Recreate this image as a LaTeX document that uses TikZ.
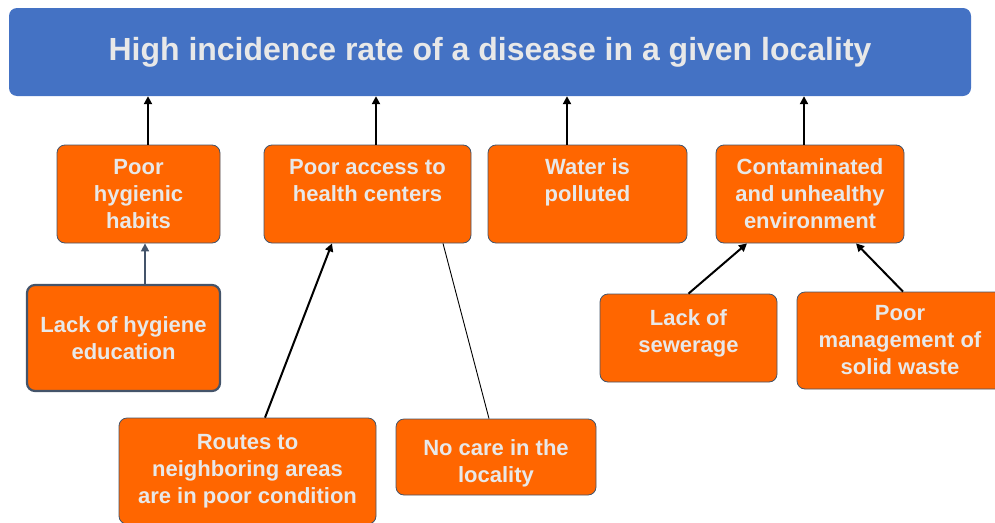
\documentclass[tikz,border=0pt]{standalone}
\usepackage{fontspec}
\setmainfont{Liberation Sans}
\usetikzlibrary{arrows.meta}
\definecolor{topblue}{HTML}{4472C4}
\definecolor{boxorange}{HTML}{FF6600}
\definecolor{edgegray}{HTML}{44546A}
\definecolor{txtgray}{HTML}{E8E8E8}
\begin{document}
\begin{tikzpicture}[x=1pt,y=1pt,
  cause/.style={draw=edgegray, line width=0.8pt, fill=boxorange, rounded corners=8pt,
    inner sep=0pt, align=center, text=txtgray, font=\fontsize{22}{27}\selectfont\bfseries},
  titlebox/.style={fill=topblue, rounded corners=8pt, inner sep=0pt, text=txtgray,
    font=\fontsize{32}{36}\selectfont\bfseries},
  arr/.style={-{Triangle[length=8pt,width=8pt]}, line width=2pt},
]
\useasboundingbox (0,0) rectangle (995,-522);
\clip (0,0) rectangle (995,-522);

\node[titlebox, minimum width=962, minimum height=88] (title) at (490,-52)
  {High incidence rate of a disease in a given locality};

\node[cause, minimum width=163, minimum height=98] (hab) at (138.5,-194)
  {Poor\\hygienic\\habits};
\node[cause, minimum width=207, minimum height=98] (acc) at (367.5,-194)
  {Poor access to\\health centers\\\mbox{}};
\node[cause, minimum width=199, minimum height=98] (wat) at (587.5,-194)
  {Water is\\polluted\\\mbox{}};
\node[cause, minimum width=188, minimum height=98] (con) at (810,-194)
  {Contaminated\\and unhealthy\\environment};

\node[cause, line width=2.2pt, minimum width=193, minimum height=106] (edu) at (123.5,-338)
  {Lack of hygiene\\education};
\node[cause, minimum width=257, minimum height=106] (rou) at (247.5,-471)
  {Routes to\\neighboring areas\\are in poor condition};
\node[cause, minimum width=200, minimum height=76] (noc) at (496,-457)
  {\rule{0pt}{28pt}No care in the\\locality};
\node[cause, minimum width=177, minimum height=88] (sew) at (688.5,-338)
  {Lack of\\sewerage\\[-14pt]\mbox{}};
\node[cause, minimum width=206, minimum height=97] (man) at (900,-340.5)
  {Poor\\management of\\solid waste};

\draw[arr] ([xshift=9.5pt]hab.north) -- ([xshift=9.5pt]hab.north |- title.south);
\draw[arr] ([xshift=8.5pt]acc.north) -- ([xshift=8.5pt]acc.north |- title.south);
\draw[arr] ([xshift=-20.5pt]wat.north) -- ([xshift=-20.5pt]wat.north |- title.south);
\draw[arr] ([xshift=-6pt]con.north) -- ([xshift=-6pt]con.north |- title.south);

\draw[arr, draw=edgegray, line width=1.6pt] ([xshift=21.5pt]edu.north) -- ([xshift=21.5pt]edu.north |- hab.south);
\draw[arr] ([xshift=17.5pt]rou.north) -- ([xshift=-35.5pt]acc.south);
\draw[line width=0.9pt] ([xshift=-7pt]noc.north) -- ([xshift=75.5pt]acc.south);
\draw[arr] ([xshift=0pt]sew.north) -- ([xshift=-63pt]con.south);
\draw[arr] ([xshift=3pt]man.north) -- ([xshift=46pt]con.south);
\end{tikzpicture}
\end{document}
